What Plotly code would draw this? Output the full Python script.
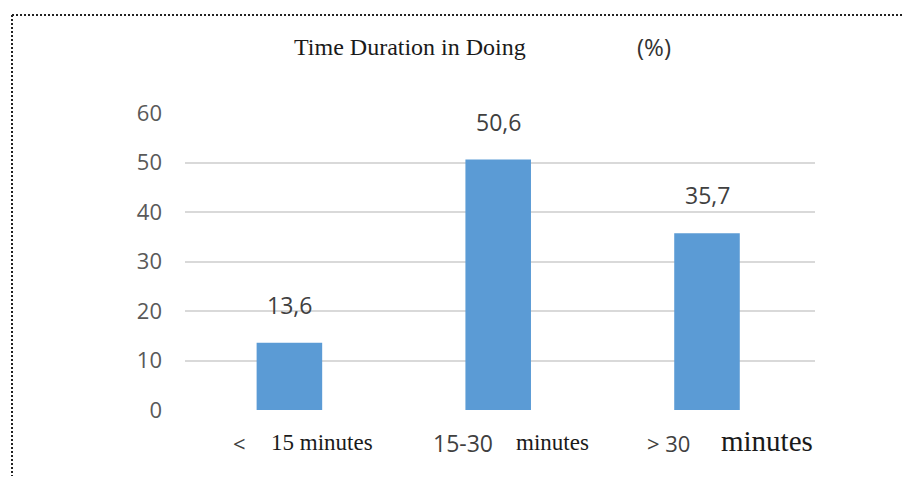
import plotly.graph_objects as go

categories = ["< 15 minutes", "15-30 minutes", "> 30 minutes"]
values = [13.6, 50.6, 35.7]
value_labels = ["13,6", "50,6", "35,7"]
# tick label pieces: (sans part, serif part)
tick_sans = ["<", "15-30", "> 30"]
tick_serif = ["15 minutes", "minutes", "minutes"]
y_ticks = [0, 10, 20, 30, 40, 50, 60]

# page body has an 8px margin; lay out in screen pixels and convert
OFF = 8
SW, SH = 912, 484
W, H = SW - 2 * OFF, SH - 2 * OFF
PL, PR, PT, PB = 185, 815, 113, 410          # plot area in screen pixels
L, T = PL - OFF, PT - OFF
R, B = W - (PR - OFF), H - (PB - OFF)
PW, PH = PR - PL, PB - PT

def px(x):
    return (x - PL) / PW

def py(y):
    return (PB - y) / PH

SANS = "Open Sans"
SERIF = "Liberation Serif"
BAR = "#5B9BD5"

fig = go.Figure()
fig.add_trace(go.Bar(
    x=categories, y=values, marker=dict(color=BAR, line=dict(width=0)),
    hoverinfo="skip", showlegend=False,
))

# value labels
for c, v, t in zip(categories, values, value_labels):
    fig.add_annotation(x=c, y=v, xref="x", yref="y", text=t, showarrow=False,
                       yanchor="bottom", yshift=20,
                       font=dict(family=SANS, size=23, color="#404040"))

# category labels with mixed fonts
seg_specs = [
    # (sans shift, sans size, serif shift, serif size)
    (-58, 22, -20, 23),
    (-67, 23, 16, 23),
    (-62, 22, 12, 29),
]
for c, s1, s2, spec in zip(categories, tick_sans, tick_serif, seg_specs):
    sx, ss, fx, fs = spec
    fig.add_annotation(x=c, y=0, xref="x", yref="y", text=s1, showarrow=False,
                       xanchor="left", yanchor="middle", xshift=sx,
                       yshift=-(451 - 0.35 * ss - PB),
                       font=dict(family=SANS, size=ss, color="#404040"))
    fig.add_annotation(x=c, y=0, xref="x", yref="y", text=s2, showarrow=False,
                       xanchor="left", yanchor="middle", xshift=fx,
                       yshift=-(451 - 0.35 * fs - PB),
                       font=dict(family=SERIF, size=fs, color="#1a1a1a"))

# title pieces
fig.add_annotation(x=px(410), y=py(47), xref="paper", yref="paper",
                   text="Time Duration in Doing", showarrow=False,
                   xanchor="center", yanchor="middle",
                   font=dict(family=SERIF, size=24, color="#1a1a1a"))
fig.add_annotation(x=px(654), y=py(47), xref="paper", yref="paper",
                   text="(%)", showarrow=False,
                   xanchor="center", yanchor="middle",
                   font=dict(family=SANS, size=24, color="#333333"))

# dotted frame (top and left edges)
fig.add_shape(type="line", xref="paper", yref="paper",
              x0=px(12), x1=px(SW + 5), y0=py(15), y1=py(15),
              line=dict(color="#222222", width=2, dash="2px,2px"))
fig.add_shape(type="line", xref="paper", yref="paper",
              x0=px(12), x1=px(12), y0=py(15), y1=py(SH + 5),
              line=dict(color="#222222", width=2, dash="2px,2px"))

fig.update_layout(
    width=W, height=H,
    margin=dict(l=L, r=R, t=T, b=B, pad=0),
    paper_bgcolor="white", plot_bgcolor="white",
    bargap=0.686,
    showlegend=False,
)
fig.update_xaxes(showticklabels=False, showgrid=False, zeroline=False,
                 showline=False, ticks="", fixedrange=True)
fig.update_yaxes(range=[0, 60], tickvals=y_ticks, ticktext=[str(v) for v in y_ticks],
                 showgrid=True, gridcolor="#d9d9d9", gridwidth=1.5,
                 zeroline=False, showline=False, ticks="",
                 ticklabelstandoff=22,
                 tickfont=dict(family=SANS, size=22, color="#595959"),
                 fixedrange=True)

fig.write_html("out.html")
